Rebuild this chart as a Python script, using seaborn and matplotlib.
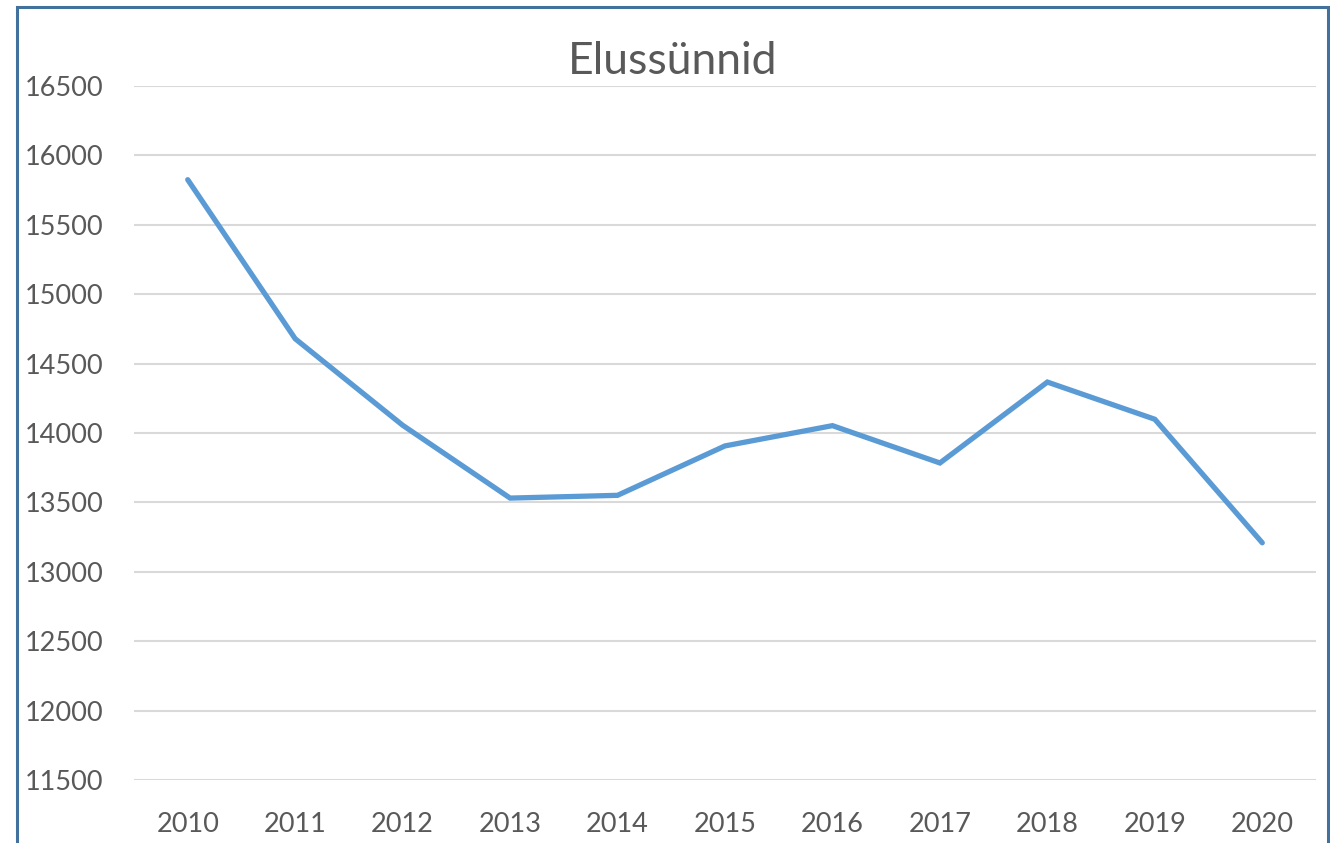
import pandas as pd
import seaborn as sns
import matplotlib.pyplot as plt
from matplotlib.patches import Rectangle

years = [2010, 2011, 2012, 2013, 2014, 2015, 2016, 2017, 2018, 2019, 2020]
births = [15825, 14679, 14056, 13531, 13551, 13907, 14053, 13784, 14367, 14099, 13209]
y_ticks = [11500, 12000, 12500, 13000, 13500, 14000, 14500, 15000, 15500, 16000, 16500]
title = "Elussünnid"

df = pd.DataFrame({"year": years, "births": births})

sns.set_theme(style="white")
plt.rcParams['font.family'] = ['Lato', 'DejaVu Sans']

W, H = 1330, 843
fig = plt.figure(figsize=(W / 100, H / 100), dpi=100)
ax = fig.add_axes([134 / W, (H - 780) / H, (1316 - 134) / W, (780 - 86) / H])

sns.lineplot(data=df, x="year", y="births", ax=ax, color="#5B9BD5", linewidth=3.8,
             solid_capstyle="round", solid_joinstyle="miter")

ax.set_xlim(years[0] - 0.5, years[-1] + 0.5)
ax.set_ylim(y_ticks[0], y_ticks[-1])
ax.set_xticks(years)
ax.set_xticklabels([str(y) for y in years])
ax.set_yticks(y_ticks)
ax.set_yticklabels([str(v) for v in y_ticks])
ax.set_xlabel("")
ax.set_ylabel("")

ax.grid(axis="y", color="#D9D9D9", linewidth=1.5)
ax.set_axisbelow(True)
for s in ax.spines.values():
    s.set_visible(False)
ax.tick_params(axis="y", length=0, pad=22, labelsize=19.5, labelcolor="#595959")
ax.tick_params(axis="x", length=0, pad=23, labelsize=19.5, labelcolor="#595959")

fig.text(673 / W, (H - 62) / H, title, ha="center", va="center", fontsize=32, color="#595959")

# blue frame around the chart
fig.patches.append(Rectangle((17 / W, -0.05), (1328 - 17) / W, (H - 7) / H + 0.05,
                             transform=fig.transFigure, fill=False,
                             edgecolor="#41719C", linewidth=2.2))

plt.savefig("out.png", dpi=100)
